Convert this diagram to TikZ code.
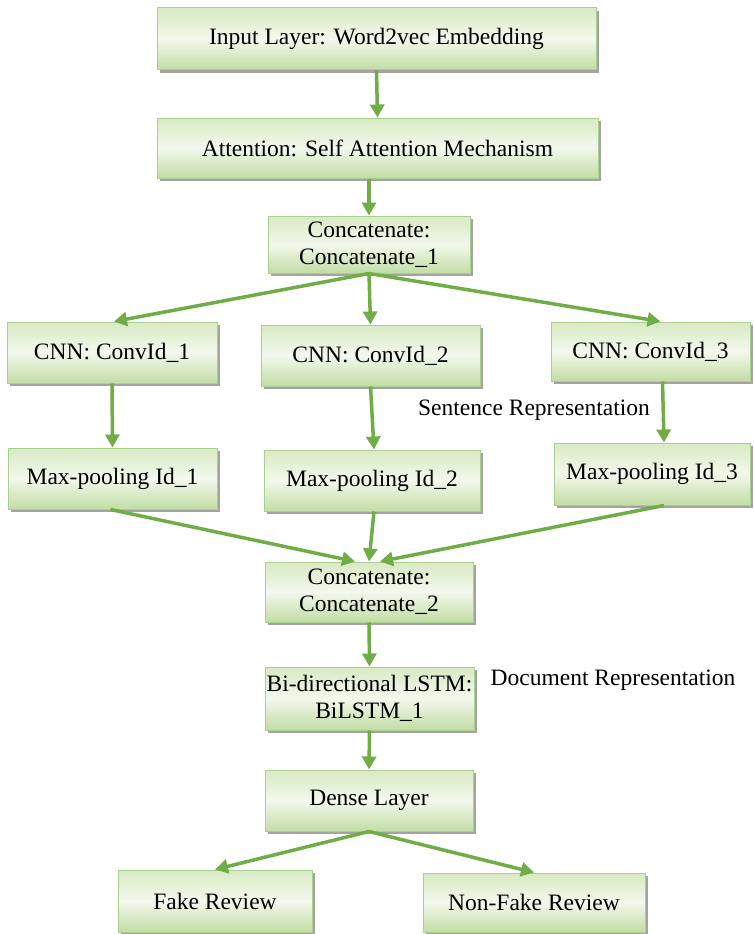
\documentclass[tikz,border=0pt]{standalone}
\usepackage{fontspec}
\setmainfont{Liberation Serif}
\usetikzlibrary{arrows.meta,shadows}
\definecolor{arr}{HTML}{70AD47}
\definecolor{bord}{HTML}{A9D08E}
\definecolor{gtop}{HTML}{D8EAC4}
\definecolor{gmid}{HTML}{F3F8EC}
\definecolor{gbot}{HTML}{C2DDA4}
\tikzset{
  box/.style={draw=bord, line width=1pt, top color=gtop, bottom color=gbot, middle color=gmid,
    drop shadow={shadow xshift=3pt, shadow yshift=-3pt, fill=black!45, opacity=0.8},
    align=center, font=\fontsize{23.5}{27}\selectfont, inner sep=0pt},
  lab/.style={font=\fontsize{23.5}{27}\selectfont, inner sep=0pt},
  flow/.style={draw=arr, line width=3.5pt, -{Triangle[length=13pt,width=14pt]}},
}
\begin{document}
\begin{tikzpicture}[x=1pt,y=-1pt]
\useasboundingbox (0,0) rectangle (753,934);
\newcommand{\bx}[6]{\node[box, minimum width=#4-#2, minimum height=#5-#3] (#1) at ({(#2+#4)/2},{(#3+#5)/2}) {#6};}
\bx{inp}{157}{8}{596}{70}{Input Layer: Word2vec Embedding}
\bx{att}{157}{118}{598}{178}{Attention: Self Attention Mechanism}
\bx{cc1}{268}{216}{470}{273}{Concatenate:\\Concatenate\_1}
\bx{cnn1}{7}{322}{217}{383}{CNN: ConvId\_1}
\bx{cnn2}{261}{325}{480}{386}{CNN: ConvId\_2}
\bx{cnn3}{551}{322}{750}{381}{CNN: ConvId\_3}
\bx{mp1}{8}{448}{217}{509}{Max-pooling Id\_1}
\bx{mp2}{264}{450}{480}{511}{Max-pooling Id\_2}
\bx{mp3}{554}{443}{750}{505}{Max-pooling Id\_3}
\bx{cc2}{265}{562}{473}{622}{Concatenate:\\Concatenate\_2}
\bx{bil}{265}{667}{474}{730}{Bi-directional LSTM:\\BiLSTM\_1}
\bx{den}{265}{770}{473}{831}{Dense Layer}
\bx{fake}{118}{870}{312}{932}{Fake Review}
\bx{nf}{423}{873}{645}{932}{Non-Fake Review}
\node[lab] (sr) at (534,410) {Sentence Representation};
\node[lab] (dr) at (613,680) {Document Representation};
\draw[flow] (inp.south) -- (att.north);
\draw[flow] (att.south -| cc1.north) -- (cc1.north);
\draw[flow] (cc1.south) -- ([xshift=2pt]cnn1.north);
\draw[flow] (cc1.south) -- (cnn2.north);
\draw[flow] (cc1.south) -- ([xshift=10pt]cnn3.north);
\draw[flow] (cnn1.south) -- (mp1.north);
\draw[flow] (cnn2.south) -- ([xshift=2pt]mp2.north);
\draw[flow] ([xshift=12pt]cnn3.south) -- ([xshift=12pt]mp3.north);
\draw[flow] ([xshift=-2pt]mp1.south) -- ([xshift=-14pt]cc2.north);
\draw[flow] ([xshift=2pt]mp2.south) -- (cc2.north);
\draw[flow] ([xshift=12pt]mp3.south) -- ([xshift=11pt]cc2.north);
\draw[flow] (cc2.south) -- (bil.north);
\draw[flow] (bil.south) -- (den.north);
\draw[flow] (den.south) -- (fake.north);
\draw[flow] (den.south) -- (nf.north);
\end{tikzpicture}
\end{document}
